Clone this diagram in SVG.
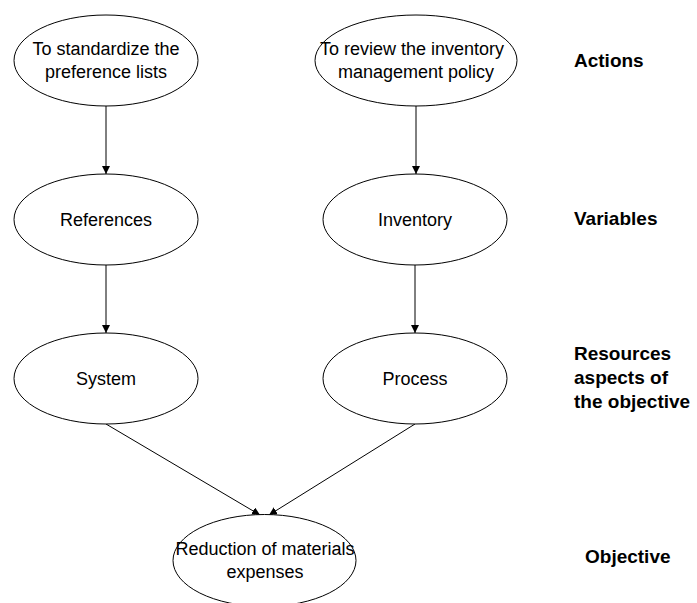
<svg xmlns="http://www.w3.org/2000/svg" width="697" height="603" viewBox="0 0 697 603">
<style>
.node ellipse{fill:#fff;stroke:#000;stroke-width:1}
.node text{font-family:"Liberation Sans",Arial,sans-serif;font-size:18px;fill:#000;text-anchor:middle}
.lbl{font-family:"Liberation Sans",Arial,sans-serif;font-size:19px;font-weight:bold;fill:#000}
.edge{stroke:#000;stroke-width:1;fill:none;marker-end:url(#ah)}
</style>
<defs>
<marker id="ah" viewBox="0 0 10 10" refX="10" refY="5" markerWidth="8" markerHeight="8" markerUnits="userSpaceOnUse" orient="auto">
<path d="M0,0 L10,5 L0,10 z" fill="#000"/>
</marker>
</defs>
<rect width="697" height="603" fill="#fff"/>
<g id="connectors">
<line class="edge" x1="106" y1="106" x2="106" y2="174"/>
<line class="edge" x1="416" y1="106" x2="416" y2="174"/>
<line class="edge" x1="106" y1="265" x2="106" y2="333"/>
<line class="edge" x1="415" y1="265" x2="415" y2="333"/>
<line class="edge" x1="106" y1="424" x2="260" y2="515"/>
<line class="edge" x1="415" y1="424" x2="269" y2="515"/>
</g>
<g id="n-standardize" class="node">
<ellipse cx="106" cy="60.5" rx="92" ry="45.5"/>
<text x="106" y="55">To standardize the</text>
<text x="106" y="78">preference lists</text>
</g>
<g id="n-review" class="node">
<ellipse cx="416" cy="60.5" rx="101" ry="45.5"/>
<text x="412" y="55">To review the inventory</text>
<text x="416" y="78">management policy</text>
</g>
<g id="n-references" class="node">
<ellipse cx="106" cy="219.5" rx="92" ry="45.5"/>
<text x="106" y="226">References</text>
</g>
<g id="n-inventory" class="node">
<ellipse cx="415" cy="219.5" rx="92" ry="45.5"/>
<text x="415" y="226">Inventory</text>
</g>
<g id="n-system" class="node">
<ellipse cx="106" cy="378.5" rx="92" ry="45.5"/>
<text x="106" y="385">System</text>
</g>
<g id="n-process" class="node">
<ellipse cx="415" cy="378.5" rx="92" ry="45.5"/>
<text x="415" y="385">Process</text>
</g>
<g id="n-objective" class="node">
<ellipse cx="264.5" cy="560.5" rx="91.5" ry="46"/>
<text x="265" y="555">Reduction of materials</text>
<text x="265" y="578">expenses</text>
</g>
<g id="labels">
<text class="lbl" x="574" y="67">Actions</text>
<text class="lbl" x="574" y="225">Variables</text>
<text class="lbl" x="574" y="360">Resources</text>
<text class="lbl" x="574" y="384">aspects of</text>
<text class="lbl" x="574" y="408">the objective</text>
<text class="lbl" x="585" y="563">Objective</text>
</g>
</svg>
